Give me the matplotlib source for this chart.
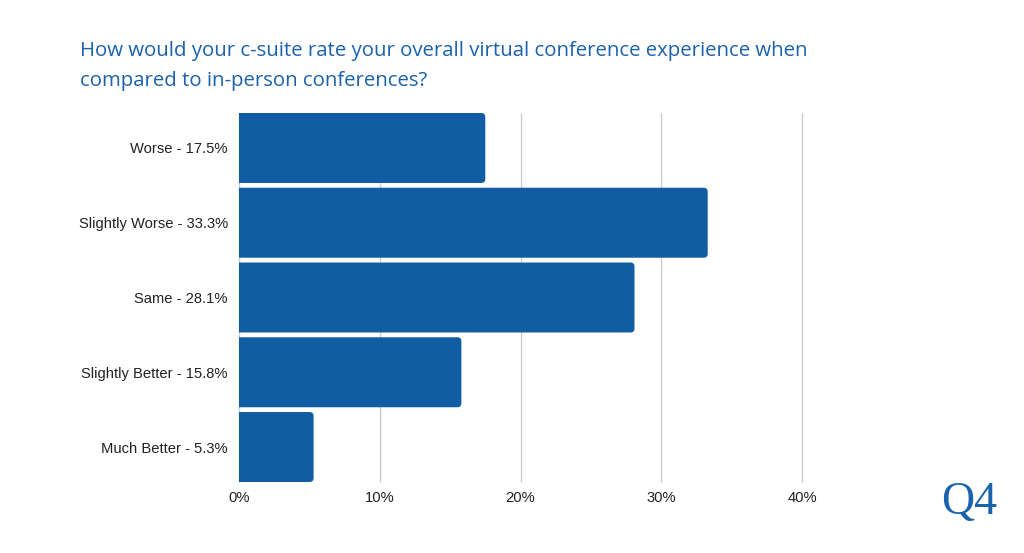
import matplotlib.pyplot as plt
from matplotlib.path import Path
from matplotlib.patches import PathPatch

# ---- data ----
labels = ["Worse - 17.5%", "Slightly Worse - 33.3%", "Same - 28.1%",
          "Slightly Better - 15.8%", "Much Better - 5.3%"]
values = [17.5, 33.3, 28.1, 15.8, 5.3]
xticks = [0, 10, 20, 30, 40]
xticklabels = ["0%", "10%", "20%", "30%", "40%"]

bar_color = "#115da3"
title_color = "#1b62ad"

ax_top, ax_bot = 110.6, 484.4
fig = plt.figure(figsize=(10.24, 5.53), dpi=100)
ax = fig.add_axes([239 / 1024, 1 - ax_bot / 553, (802 - 239) / 1024, (ax_bot - ax_top) / 553])

ax.set_xlim(0, 40)
ax.set_ylim(len(values) - 0.5, -0.5)

# bars: square on the left, rounded corners on the right
h = 0.936
rx = 4 * 40 / (802 - 239)
ry = 4 * 5 / (ax_bot - ax_top)
for i, v in enumerate(values):
    y0, y1 = i - h / 2, i + h / 2
    verts = [(0, y0), (v - rx, y0), (v, y0), (v, y0 + ry), (v, y1 - ry),
             (v, y1), (v - rx, y1), (0, y1), (0, y0)]
    codes = [Path.MOVETO, Path.LINETO, Path.CURVE3, Path.CURVE3, Path.LINETO,
             Path.CURVE3, Path.CURVE3, Path.LINETO, Path.CLOSEPOLY]
    ax.add_patch(PathPatch(Path(verts, codes), facecolor=bar_color,
                           edgecolor="none", zorder=3))

# vertical grid only across the bar area
ax.vlines(xticks, -h / 2, len(values) - 1 + h / 2, color="#cccccc",
          linewidth=1, zorder=0, clip_on=False)

ax.set_yticks(range(len(values)))
ax.set_yticklabels(labels, fontfamily="Liberation Sans", fontsize=10.6, color="#222222")
ax.set_xticks(xticks)
ax.set_xticklabels(xticklabels, fontfamily="Liberation Sans", fontsize=10.6, color="#222222")
ax.tick_params(length=0)
ax.tick_params(axis="y", pad=8)
ax.tick_params(axis="x", pad=5)
for s in ax.spines.values():
    s.set_visible(False)

fig.text(80 / 1024, 1 - 66 / 553, "How would your c-suite rate your overall virtual conference experience when\ncompared to in-person conferences?",
         fontfamily="Open Sans", fontsize=14.7, color=title_color,
         va="center", ha="left", linespacing=1.62)

fig.text(969 / 1024, 1 - 503 / 553, "Q4", fontfamily="Liberation Serif",
         fontsize=33, color=title_color, ha="center", va="center")

fig.savefig("out.png", dpi=100)
